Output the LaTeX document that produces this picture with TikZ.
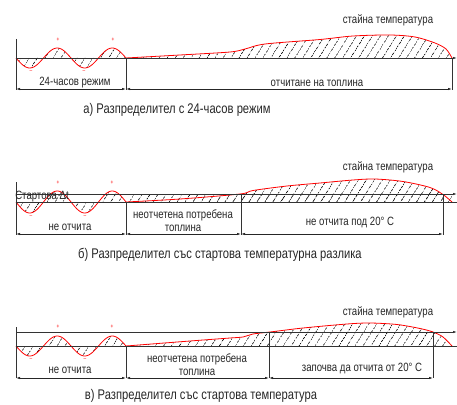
\documentclass[tikz,border=0pt]{standalone}
\usepackage{fontspec}
\setmainfont{Liberation Sans}[FakeStretch=0.8]
\usetikzlibrary{patterns.meta}
\usetikzlibrary{arrows.meta}

\newcommand{\wave}[2]{plot[domain=16:126,samples=90] (\x,{#1+#2*sin((\x-16)/55*360)})}
\newcommand{\roomA}{plot[smooth] coordinates {(126,58) (180,55) (230,52) (245,49) (265,44) (320,39.5) (353,36) (390,35) (415,37) (435,43) (446,49) (452,58)}}
\newcommand{\roomB}{plot[smooth] coordinates {(126,202) (180,199) (240,194) (253,190.5) (287,186) (320,183) (353,180) (375,179) (403,181.5) (430,187.5) (443,194.5) (452,202)}}
\newcommand{\roomC}{plot[smooth] coordinates {(126,346) (190,341) (230,338) (243,337) (253,334) (270,332) (303,328) (347,324) (370,323) (397,324.5) (420,328.5) (433,332) (443,337) (452,346)}}

\begin{document}
\begin{tikzpicture}[x=1pt,y=-1pt,line width=0.6pt,>={Latex[length=4pt,width=2.4pt]}]
  \tikzstyle{every node}=[inner sep=0pt,text=black!85,font=\fontsize{12}{13}\selectfont]
  \tikzstyle{hatch}=[pattern={Lines[angle=58,distance=6.5pt,line width=0.7pt]},pattern color=black!90]
  \tikzstyle{warm}=[red,line width=0.8pt]
  \tikzstyle{axis}=[black!80]
  \tikzstyle{dim}=[<->,black!85]
  \tikzstyle{sign}=[red,text=red,font=\fontsize{6}{6}\selectfont]
  \tikzstyle{caption}=[font=\fontsize{14}{15}\selectfont]

  \useasboundingbox (0,0) rectangle (457,404);

  % a) 24-hour mode
  \fill[hatch] \wave{58}{10} -- cycle;
  \fill[hatch] \roomA -- cycle;
  \draw[warm] \wave{58}{10};
  \draw[warm] \roomA;
  \draw[axis] (16,39) -- (16,90);
  \draw[axis,->] (16,58) -- (457,58);
  \draw[axis] (126,58) -- (126,90) (452,58) -- (452,90);
  \draw[dim] (16,89) -- (126,89);
  \draw[dim] (126,89) -- (452,89);
  \node[sign] (pa1) at (58,40) {+};
  \node[sign] (pa2) at (113,40) {+};
  \node[sign] (ma1) at (31,72) {--};
  \node[sign] (ma2) at (84,72) {--};
  \node (rooma) at (388,20) {стайна температура};
  \node (daya)  at (75,83)  {24-часов режим};
  \node (reada) at (317,83) {отчитане на топлина};
  \node[caption] (capa) at (177,110) {а) Разпределител с 24-часов режим};

  % b) start temperature difference
  \fill[hatch] \wave{202}{11} -- cycle;
  \fill[hatch] (126,194) rectangle (452,202);
  \fill[hatch] \roomB -- cycle;
  \draw[warm] \wave{202}{11};
  \draw[warm] \roomB;
  \draw[axis] (16,182) -- (16,235);
  \draw[axis,->] (16,194) -- (457,194);
  \draw[axis] (16,202) -- (457,202);
  \draw[axis] (126,202) -- (126,235) (241,194) -- (241,235) (443,194) -- (443,235);
  \draw[dim] (16,234) -- (126,234);
  \draw[dim] (126,234) -- (241,234);
  \draw[dim] (241,234) -- (443,234);
  \node[sign] (pb1) at (58,183) {+};
  \node[sign] (pb2) at (112,183) {+};
  \node[sign] (mb1) at (31,217) {--};
  \node[sign] (mb2) at (85,217) {--};
  \node (start) at (42,197) {Стартова Δt};
  \node (roomb) at (388,167) {стайна температура};
  \node (nob)   at (70,227) {не отчита};
  \node[align=center] (lostb) at (183,221) {неотчетена потребена\\топлина};
  \node (belowb) at (350,223) {не отчита под 20° C};
  \node[caption] (capb) at (220,255) {б) Разпределител със стартова температурна разлика};

  % c) start temperature
  \fill[hatch] \wave{346}{10} -- cycle;
  \fill[hatch] \roomC -- cycle;
  \draw[warm] \wave{346}{10};
  \draw[warm] \roomC;
  \draw[axis] (16,327) -- (16,378);
  \draw[axis,->] (16,332) -- (457,332);
  \draw[axis] (16,346) -- (457,346);
  \draw[axis] (126,346) -- (126,378) (269,332) -- (269,378) (433,332) -- (433,378);
  \draw[dim] (16,378) -- (126,378);
  \draw[dim] (126,378) -- (269,378);
  \draw[dim] (269,378) -- (433,378);
  \node[sign] (pc1) at (58,327) {+};
  \node[sign] (pc2) at (112,327) {+};
  \node[sign] (mc1) at (31,360) {--};
  \node[sign] (mc2) at (85,360) {--};
  \node (roomc) at (388,312) {стайна температура};
  \node (noc)   at (70,370) {не отчита};
  \node[align=center] (lostc) at (197,365) {неотчетена потребена\\топлина};
  \node (fromc) at (362,369) {започва да отчита от 20° C};
  \node[caption] (capc) at (201,396) {в) Разпределител със стартова температура};
\end{tikzpicture}
\end{document}
